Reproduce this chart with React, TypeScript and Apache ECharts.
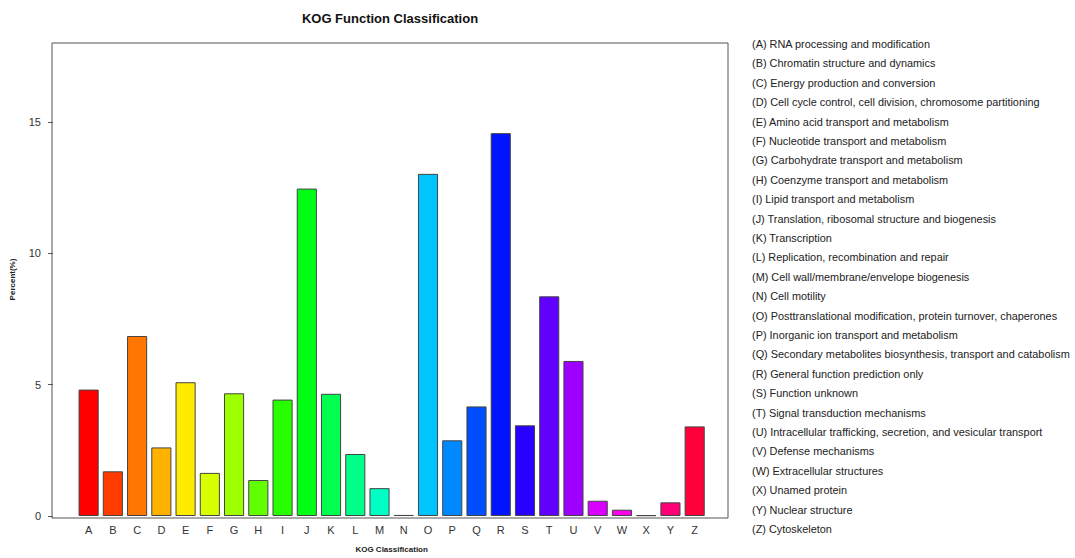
import React, { useEffect, useRef } from "react";
import * as echarts from "echarts";

const categories = ["A","B","C","D","E","F","G","H","I","J","K","L","M","N","O","P","Q","R","S","T","U","V","W","X","Y","Z"];
const percents = [4.81,1.70,6.85,2.61,5.09,1.64,4.67,1.37,4.43,12.46,4.65,2.36,1.06,0.04,13.02,2.88,4.17,14.57,3.45,8.36,5.90,0.58,0.24,0.03,0.52,3.41];
const barColors = ["#FF0000","#FF3B00","#FF7600","#FFB100","#FFEB00","#D8FF00","#9DFF00","#62FF00","#27FF00","#00FF14","#00FF4E","#00FF89","#00FFC4","#00FFFF","#00C4FF","#0089FF","#004EFF","#0014FF","#2700FF","#6200FF","#9D00FF","#D800FF","#FF00EB","#FF00B1","#FF0076","#FF003B"];
const descriptions = [
  "RNA processing and modification",
  "Chromatin structure and dynamics",
  "Energy production and conversion",
  "Cell cycle control, cell division, chromosome partitioning",
  "Amino acid transport and metabolism",
  "Nucleotide transport and metabolism",
  "Carbohydrate transport and metabolism",
  "Coenzyme transport and metabolism",
  "Lipid transport and metabolism",
  "Translation, ribosomal structure and biogenesis",
  "Transcription",
  "Replication, recombination and repair",
  "Cell wall/membrane/envelope biogenesis",
  "Cell motility",
  "Posttranslational modification, protein turnover, chaperones",
  "Inorganic ion transport and metabolism",
  "Secondary metabolites biosynthesis, transport and catabolism",
  "General function prediction only",
  "Function unknown",
  "Signal transduction mechanisms",
  "Intracellular trafficking, secretion, and vesicular transport",
  "Defense mechanisms",
  "Extracellular structures",
  "Unamed protein",
  "Nuclear structure",
  "Cytoskeleton",
];
const yTicks = [0, 5, 10, 15];
const titleText = "KOG Function Classification";
const xName = "KOG Classification";
const yName = "Percent(%)";

const FONT = "'Liberation Sans', Arial, sans-serif";

export default function App() {
  const ref = useRef<HTMLDivElement>(null);
  useEffect(() => {
    if (!ref.current) return;
    const chart = echarts.init(ref.current, undefined, { renderer: "svg" });
    const boxL = 52, boxT = 43, boxR = 728, boxB = 518;
    const gridL = 75.5, gridW = 631.3;
    const legendItems = descriptions.map((d, i) => ({
      type: "text",
      x: 752,
      y: 44 + i * 19.4,
      style: {
        text: `(${categories[i]}) ${d}`,
        fontSize: 10.9,
        fontFamily: FONT,
        fill: "#222",
        verticalAlign: "middle",
        align: "left",
      },
    }));
    chart.setOption({
      animation: false,
      backgroundColor: "#fff",
      textStyle: { fontFamily: FONT },
      grid: { left: gridL, width: gridW, top: boxT, bottom: 558 - boxB, containLabel: false },
      xAxis: {
        type: "category",
        data: categories,
        axisLine: { show: false },
        axisTick: { show: false },
        axisLabel: { fontSize: 11, color: "#333", margin: 8, interval: 0, fontFamily: FONT },
        name: xName,
        nameLocation: "middle",
        nameGap: 29,
        nameTextStyle: { fontSize: 8, fontWeight: "bold", color: "#222", fontFamily: FONT },
      },
      yAxis: {
        type: "value",
        min: 0,
        max: 18,
        offset: gridL - boxL,
        splitLine: { show: false },
        axisLine: { show: false },
        axisTick: { show: true, length: 5, lineStyle: { color: "#555" }, customValues: yTicks },
        axisLabel: { fontSize: 11, color: "#333", margin: 12, customValues: yTicks, fontFamily: FONT },
        name: yName,
        nameLocation: "middle",
        nameRotate: 90,
        nameGap: 37,
        nameTextStyle: { fontSize: 8, fontWeight: "bold", color: "#222", fontFamily: FONT },
      },
      series: [
        {
          type: "bar",
          data: percents.map((v, i) => ({ value: v, itemStyle: { color: barColors[i] } })),
          barCategoryGap: "17%",
          itemStyle: { borderColor: "#444", borderWidth: 1 },
        },
      ],
      graphic: [
        {
          type: "rect",
          shape: { x: boxL, y: boxT, width: boxR - boxL, height: boxB - boxT },
          style: { fill: "none", stroke: "#555", lineWidth: 1 },
          z: 100,
        },
        {
          type: "text",
          x: (boxL + boxR) / 2,
          y: 18,
          style: {
            text: titleText,
            fontSize: 13,
            fontWeight: "bold",
            fontFamily: FONT,
            fill: "#111",
            align: "center",
            verticalAlign: "middle",
          },
        },
        ...legendItems,
      ],
    });
    return () => chart.dispose();
  }, []);
  return <div ref={ref} style={{ position: "fixed", left: 0, top: 0, width: 1075, height: 558, background: "#fff" }} />;
}
